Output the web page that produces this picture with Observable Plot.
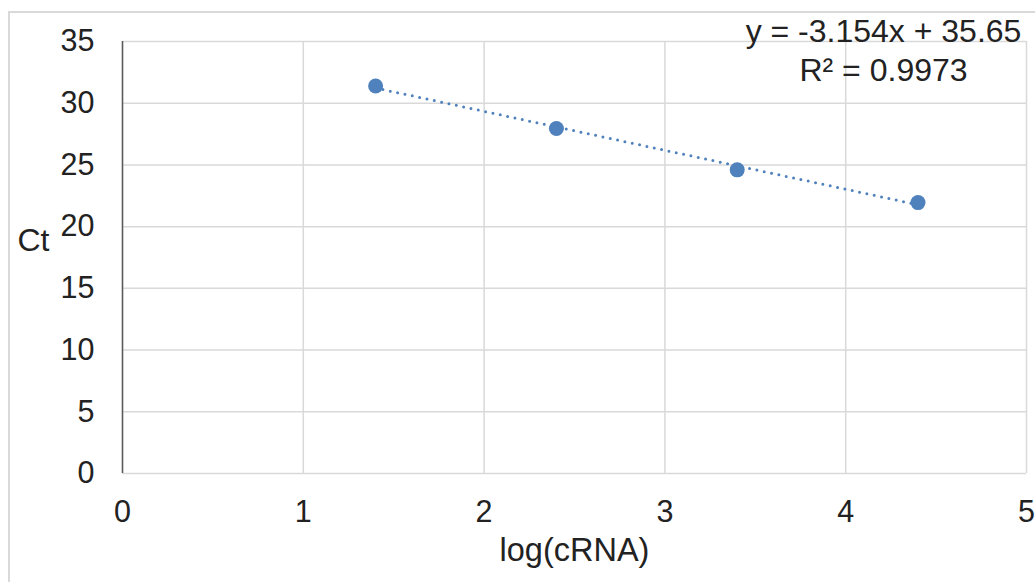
<!DOCTYPE html>
<html>
<head>
<meta charset="utf-8">
<script src="https://cdn.jsdelivr.net/npm/d3@7"></script>
<script src="https://cdn.jsdelivr.net/npm/@observablehq/plot@0.6"></script>
<style>
  html, body { margin: 0; padding: 0; background: #fff; overflow: hidden; }
  #wrap { position: relative; width: 1035px; height: 582px; }
  #frame { position: absolute; left: 8px; top: 11px; width: 1200px; height: 800px;
           border: 2px solid #d9d9d9; box-sizing: border-box; }
  #chart { position: absolute; left: 0; top: 0; }
</style>
</head>
<body>
<div id="wrap"><div id="frame"></div><div id="chart"></div></div>
<script>
// Standard curve: Ct against log of cRNA amount
const logCRNA = [1.4, 2.4, 3.4, 4.4];
const ct = [31.4, 27.95, 24.6, 21.95];

// Linear trendline reported on the chart
const slope = -3.154;
const intercept = 35.65;
const rSquared = 0.9973;

const xTicks = [0, 1, 2, 3, 4, 5];
const yTicks = [0, 5, 10, 15, 20, 25, 30, 35];

const points = logCRNA.map((x, i) => ({x, y: ct[i]}));
const xMin = d3.min(logCRNA), xMax = d3.max(logCRNA);
const trend = [xMin, xMax].map(x => ({x, y: slope * x + intercept}));

const eqText = `y = ${slope}x + ${intercept}\nR² = ${rSquared}`;

const blue = "#4f81bd";
const gridColor = "#d9d9d9";
const ink = "#222";

const chart = Plot.plot({
  width: 1035,
  height: 582,
  marginLeft: 122,
  marginRight: 9,
  marginTop: 41,
  marginBottom: 109,
  style: {
    fontFamily: "'Liberation Sans', Arial, sans-serif",
    fontSize: "30.5px",
    color: ink,
    background: "transparent"
  },
  x: {domain: [0, 5]},
  y: {domain: [0, 35]},
  marks: [
    Plot.gridX(xTicks, {stroke: gridColor, strokeOpacity: 1, strokeWidth: 1.5}),
    Plot.gridY(yTicks, {stroke: gridColor, strokeOpacity: 1, strokeWidth: 1.5}),
    Plot.axisX(xTicks, {tickSize: 0, tickPadding: 27, label: null, tickFormat: d => String(d)}),
    Plot.axisY(yTicks, {tickSize: 0, tickPadding: 28, label: null, tickFormat: d => String(d)}),
    Plot.ruleX([0], {stroke: "#595959", strokeWidth: 1.5}),
    Plot.line(trend, {x: "x", y: "y", stroke: blue, strokeWidth: 3,
                      strokeDasharray: "0 7.5", strokeLinecap: "round"}),
    Plot.dot(points, {x: "x", y: "y", r: 7.5, fill: blue, stroke: "none"}),
    Plot.text(["Ct"], {frameAnchor: "left", dx: -105, dy: -17, textAnchor: "start",
                       fontSize: 32, fill: ink}),
    Plot.text(["log(cRNA)"], {frameAnchor: "bottom", dy: 87, textAnchor: "middle",
                              fontSize: 32.5, fill: ink}),
    Plot.text([eqText], {frameAnchor: "top-right", dx: -143, dy: -28, textAnchor: "middle",
                         lineAnchor: "top", lineHeight: 1.24, fontSize: 32, fill: ink})
  ]
});

document.getElementById("chart").appendChild(chart);
</script>
</body>
</html>
